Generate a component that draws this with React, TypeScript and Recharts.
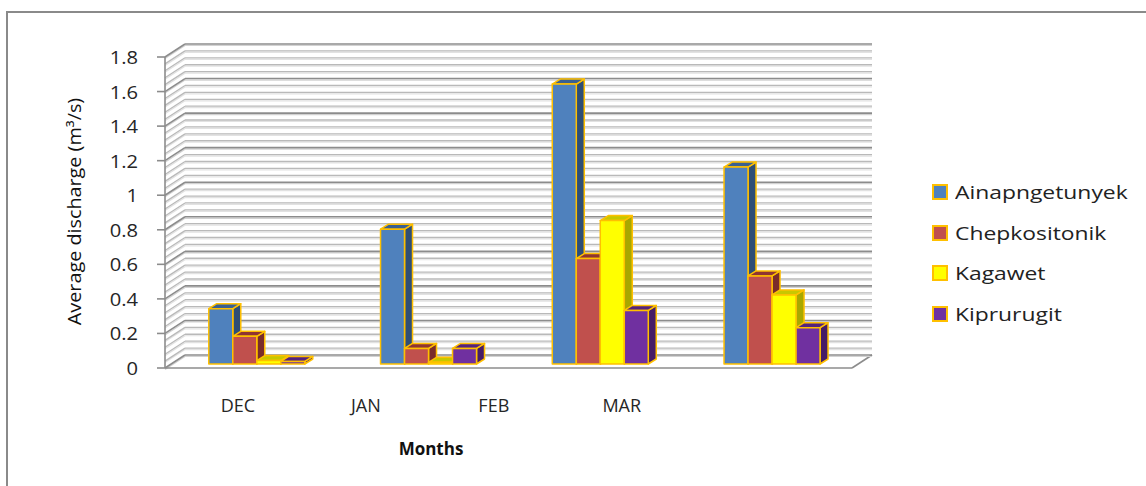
import React from "react";
import { BarChart, Bar, XAxis, YAxis, CartesianGrid, Legend } from "recharts";

// ---------- data ----------
const months = ["DEC", "JAN", "FEB", "MAR"];
const ainapngetunyek = [0.32, 0.78, 1.62, 1.14];
const chepkositonik = [0.16, 0.09, 0.61, 0.51];
const kagawet = [0.02, 0.01, 0.83, 0.4];
const kiprurugit = [0.015, 0.09, 0.31, 0.21];
const seriesNames = ["Ainapngetunyek", "Chepkositonik", "Kagawet", "Kiprurugit"];
const yTicks = [0, 0.2, 0.4, 0.6, 0.8, 1, 1.2, 1.4, 1.6, 1.8];
// minor gridlines: 5 steps inside each major step
const minorTicks = yTicks.flatMap((t, i) =>
  i === yTicks.length - 1 ? [t] : [0, 1, 2, 3, 4].map((k) => +(t + k * 0.04).toFixed(2))
);

const data = months.map((m, i) => ({
  month: m,
  ainapngetunyek: ainapngetunyek[i],
  chepkositonik: chepkositonik[i],
  kagawet: kagawet[i],
  kiprurugit: kiprurugit[i],
}));

const seriesKeys = ["ainapngetunyek", "chepkositonik", "kagawet", "kiprurugit"];
const palette = [
  { front: "#4F81BD", side: "#2E4E76", top: "#3A6091" },
  { front: "#C0504D", side: "#7A2C2A", top: "#8E3532" },
  { front: "#FFFF00", side: "#A8A800", top: "#C8C800" },
  { front: "#7030A0", side: "#461C66", top: "#55237C" },
];
const OUTLINE = "#FFC000";
const FONT = "'Open Sans', sans-serif";

// depth geometry
const WALL_DX = 20;
const WALL_DY = -13;
const BAR_OFF_X = 6;
const BAR_OFF_Y = -4;
const BAR_DEPTH_X = 8;
const BAR_DEPTH_Y = -5;

const makeShape = (c: { front: string; side: string; top: string }) => (props: any) => {
  const { x, y, width, height } = props;
  if (x == null || width == null || height == null) return null;
  const fx = x + BAR_OFF_X;
  const fy = y + BAR_OFF_Y;
  const w = width;
  const h = Math.max(height, 0.8);
  const dx = BAR_DEPTH_X;
  const dy = BAR_DEPTH_Y;
  const sidePts = `${fx + w},${fy} ${fx + w + dx},${fy + dy} ${fx + w + dx},${fy + h + dy} ${fx + w},${fy + h}`;
  const topPts = `${fx},${fy} ${fx + dx},${fy + dy} ${fx + w + dx},${fy + dy} ${fx + w},${fy}`;
  return (
    <g>
      <polygon points={sidePts} fill={c.side} stroke={OUTLINE} strokeWidth={1.5} strokeLinejoin="round" />
      <polygon points={topPts} fill={c.top} stroke={OUTLINE} strokeWidth={1.5} strokeLinejoin="round" />
      <rect x={fx} y={fy} width={w} height={h} fill={c.front} stroke={OUTLINE} strokeWidth={1.5} strokeLinejoin="round" />
    </g>
  );
};

const GridLine = (p: any) => {
  const { x1, x2, y1, y, height } = p;
  const bottom = y + height;
  const isFloor = Math.abs(y1 - bottom) < 0.5;
  const step = height / (minorTicks.length - 1);
  const k = Math.round((bottom - y1) / step);
  const major = k % 5 === 0;
  const bx1 = x1 + WALL_DX;
  const bx2 = x2 + WALL_DX;
  const by = y1 + WALL_DY;
  const main = major ? "#8C8C8C" : "#B9B9B9";
  const shade = major ? "#D2D2D2" : "#E2E2E2";
  return (
    <g>
      {isFloor && (
        <g>
          <polygon
            points={`${x1},${y1} ${x2},${y1} ${bx2},${by} ${bx1},${by}`}
            fill="#FFFFFF"
          />
          <line x1={x2} y1={y1} x2={bx2} y2={by} stroke="#8C8C8C" strokeWidth={1.6} />
        </g>
      )}
      <line x1={x1} y1={y1 + 1.5} x2={bx1} y2={by + 1.5} stroke={shade} strokeWidth={1.2} />
      <line x1={bx1} y1={by + 1.5} x2={bx2} y2={by + 1.5} stroke={shade} strokeWidth={1.2} />
      <line x1={x1} y1={y1} x2={bx1} y2={by} stroke={main} strokeWidth={major ? 1.6 : 1.3} />
      <line x1={bx1} y1={by} x2={bx2} y2={by} stroke={main} strokeWidth={major ? 1.6 : 1.3} />
    </g>
  );
};

const YTick = (props: any) => {
  const { x, y, payload } = props;
  return (
    <g transform={`translate(${x},${y})`}>
      <text
        x={0}
        y={0}
        dy={7}
        textAnchor="end"
        fontSize={18}
        fontFamily={FONT}
        fill="#262626"
        transform="scale(1.12,1)"
      >
        {payload.value}
      </text>
    </g>
  );
};

const XTick = (props: any) => {
  const { x, y, payload } = props;
  const lx = x * 0.745 + 51;
  return (
    <text x={lx} y={y + 44} textAnchor="middle" fontSize={18} fontFamily={FONT} fill="#262626">
      {payload.value}
    </text>
  );
};

const YTitle = (props: any) => {
  const vb = props.viewBox || { x: 105, y: 57, width: 60, height: 311 };
  const cx = vb.x - 24.5;
  const cy = vb.y + vb.height / 2 - 1;
  return (
    <text
      transform={`translate(${cx},${cy}) rotate(-90) scale(1.1,1)`}
      textAnchor="middle"
      fontSize={18}
      fontFamily={FONT}
      fill="#111"
    >
      Average discharge (m³/s)
    </text>
  );
};

const XTitle = (props: any) => {
  const vb = props.viewBox || { x: 165, y: 368, width: 687, height: 30 };
  return (
    <text
      x={vb.x + 266}
      y={vb.y + 87}
      textAnchor="middle"
      fontSize={17}
      fontWeight="bold"
      fontFamily={FONT}
      fill="#111"
    >
      Months
    </text>
  );
};

const LegendContent = () => (
  <div style={{ fontFamily: FONT }}>
    {seriesNames.map((name, i) => (
      <div key={name} style={{ height: 40.5, display: "flex", alignItems: "center" }}>
        <span
          style={{
            display: "inline-block",
            width: 12,
            height: 12,
            background: palette[i].front,
            border: `2px solid ${OUTLINE}`,
            flex: "none",
          }}
        />
        <span
          style={{
            marginLeft: 7,
            fontSize: 18,
            color: "#222",
            display: "inline-block",
            transform: "scaleX(1.27)",
            transformOrigin: "left center",
            whiteSpace: "nowrap",
          }}
        >
          {name}
        </span>
      </div>
    ))}
  </div>
);

export default function App() {
  return (
    <div
      style={{
        position: "absolute",
        left: 0,
        top: 0,
        width: 1146,
        height: 486,
        overflow: "hidden",
        background: "#FFFFFF",
      }}
    >
      <div
        style={{
          position: "absolute",
          left: 6,
          top: 11,
          width: 1300,
          height: 700,
          border: "2px solid #8A8A8A",
        }}
      />
      <div style={{ position: "absolute", left: 0, top: 0 }}>
        <BarChart
          width={1146}
          height={486}
          data={data}
          margin={{ top: 57, right: 294, bottom: 88, left: 105 }}
          barCategoryGap="22%"
          barGap={0}
        >
          <CartesianGrid
            yAxisId="main"
            vertical={false}
            horizontal={GridLine}
            horizontalValues={minorTicks}
            fill="none"
            stroke="none"
          />
          <XAxis
            dataKey="month"
            axisLine={{ stroke: "#8C8C8C", strokeWidth: 1.6 }}
            tickLine={false}
            tickSize={0}
            tickMargin={0}
            height={30}
            interval={0}
            tick={XTick}
            label={{ content: XTitle }}
          />
          <YAxis
            yAxisId="main"
            domain={[0, 1.8]}
            ticks={yTicks}
            interval={0}
            width={60}
            tickSize={8}
            tickMargin={19}
            axisLine={{ stroke: "#8C8C8C", strokeWidth: 1.6 }}
            tickLine={{ stroke: "#8C8C8C", strokeWidth: 1.6 }}
            tick={YTick}
            label={{ content: YTitle }}
          />
          <Legend
            layout="vertical"
            align="center"
            verticalAlign="middle"
            wrapperStyle={{ left: 932, top: 172, width: 214 }}
            content={LegendContent}
          />
          {seriesKeys.map((k, i) => (
            <Bar
              key={k}
              yAxisId="main"
              dataKey={k}
              name={seriesNames[i]}
              fill={palette[i].front}
              shape={makeShape(palette[i])}
              isAnimationActive={false}
            />
          ))}
        </BarChart>
      </div>
    </div>
  );
}
